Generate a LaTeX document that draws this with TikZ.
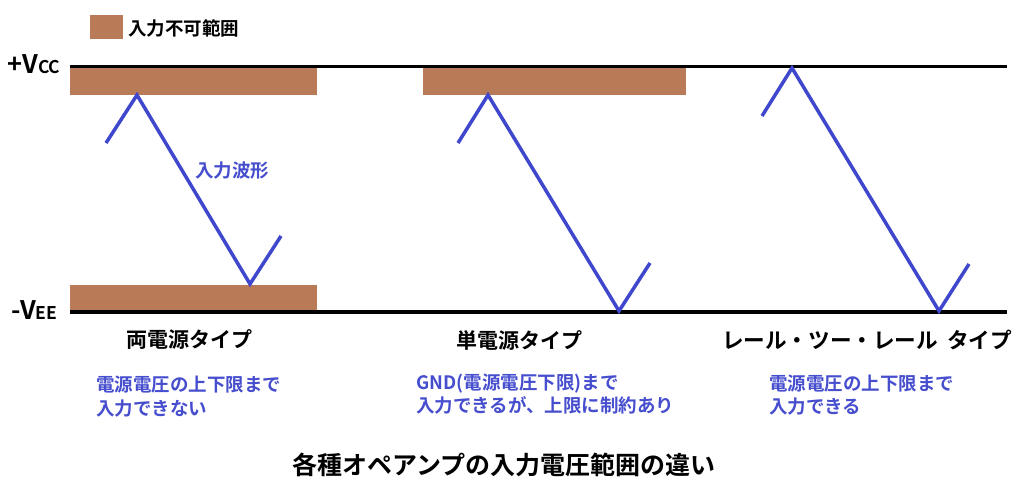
\documentclass[tikz,border=0pt]{standalone}
\usepackage{fontspec}
\setmainfont{Noto Sans CJK JP}[BoldFont={* Bold}]
\newfontfamily\jpb{Noto Sans CJK JP Bold}
\definecolor{barbrown}{RGB}{185,122,87}
\definecolor{wave}{RGB}{63,72,204}
\definecolor{desc}{RGB}{70,78,206}
\begin{document}
\begin{tikzpicture}[x=1pt,y=-1pt,
  rail/.style={line width=3.8pt,black},
  bar/.style={fill=barbrown,draw=none},
  wavel/.style={line width=3.5pt,wave,line join=miter},
  typelbl/.style={font=\jpb\fontsize{21}{21}\selectfont,inner sep=0pt,text=black},
  desclbl/.style={font=\jpb\fontsize{18.5}{23.5}\selectfont,inner sep=0pt,text=desc,align=left,anchor=west},
]
\useasboundingbox (0,0) rectangle (1024,484);
% legend
\fill[barbrown] (90,15) rectangle (123,39);
\node[font=\jpb\fontsize{18.5}{18.5}\selectfont,anchor=west,inner sep=0pt] (leg) at (128,28) {入力不可範囲};
% bars
\fill[bar] (70,67) rectangle (317,95);
\fill[bar] (70,285) rectangle (317,311);
\fill[bar] (423,67) rectangle (686,95);
% rails
\coordinate (vccL) at (70,66.5);
\coordinate (vccR) at (1007,66.5);
\coordinate (veeL) at (70,312);
\coordinate (veeR) at (1007,312);
\draw[rail] (vccL) -- (vccR);
\draw[rail] (veeL) -- (veeR);
\node[font=\jpb\fontsize{25.5}{25.5}\selectfont,anchor=base west,inner sep=0pt] (vcc) at (7,74) {+V{\fontsize{17.5}{17.5}\selectfont CC}};
\node[font=\jpb\fontsize{25.5}{25.5}\selectfont,anchor=base west,inner sep=0pt] (vee) at (11,319) {-V{\fontsize{17.5}{17.5}\selectfont EE}};
% waves
\draw[wavel] (106,143) -- (137,95) -- (250,284) -- (281,236);
\draw[wavel] (458,143) -- (488,95) -- (619,311) -- (650,263);
\draw[wavel] (762,116) -- (792,68) -- (939,311) -- (969,264);
\node[font=\jpb\fontsize{18.5}{18.5}\selectfont,text=desc,anchor=west,inner sep=0pt] (wlbl) at (195,171) {入力波形};
% type labels
\node[typelbl] (t1) at (189,340) {両電源タイプ};
\node[typelbl] (t2) at (519,340) {単電源タイプ};
\node[typelbl,font=\jpb\fontsize{21.6}{21.6}\selectfont] (t3) at (867,340) {レール・ツー・レール\hspace{9pt}タイプ};
% descriptions
\node[desclbl] (d1) at (96,396.5) {電源電圧の上下限まで\\入力できない};
\node[desclbl] (d2) at (416,394) {GND(電源電圧下限)まで\\入力できるが、上限に制約あり};
\node[desclbl] (d3) at (769,395) {電源電圧の上下限まで\\入力できる};
% title
\node[font=\jpb\fontsize{25}{25}\selectfont,inner sep=0pt] (title) at (504,465) {各種オペアンプの入力電圧範囲の違い};
\end{tikzpicture}
\end{document}
